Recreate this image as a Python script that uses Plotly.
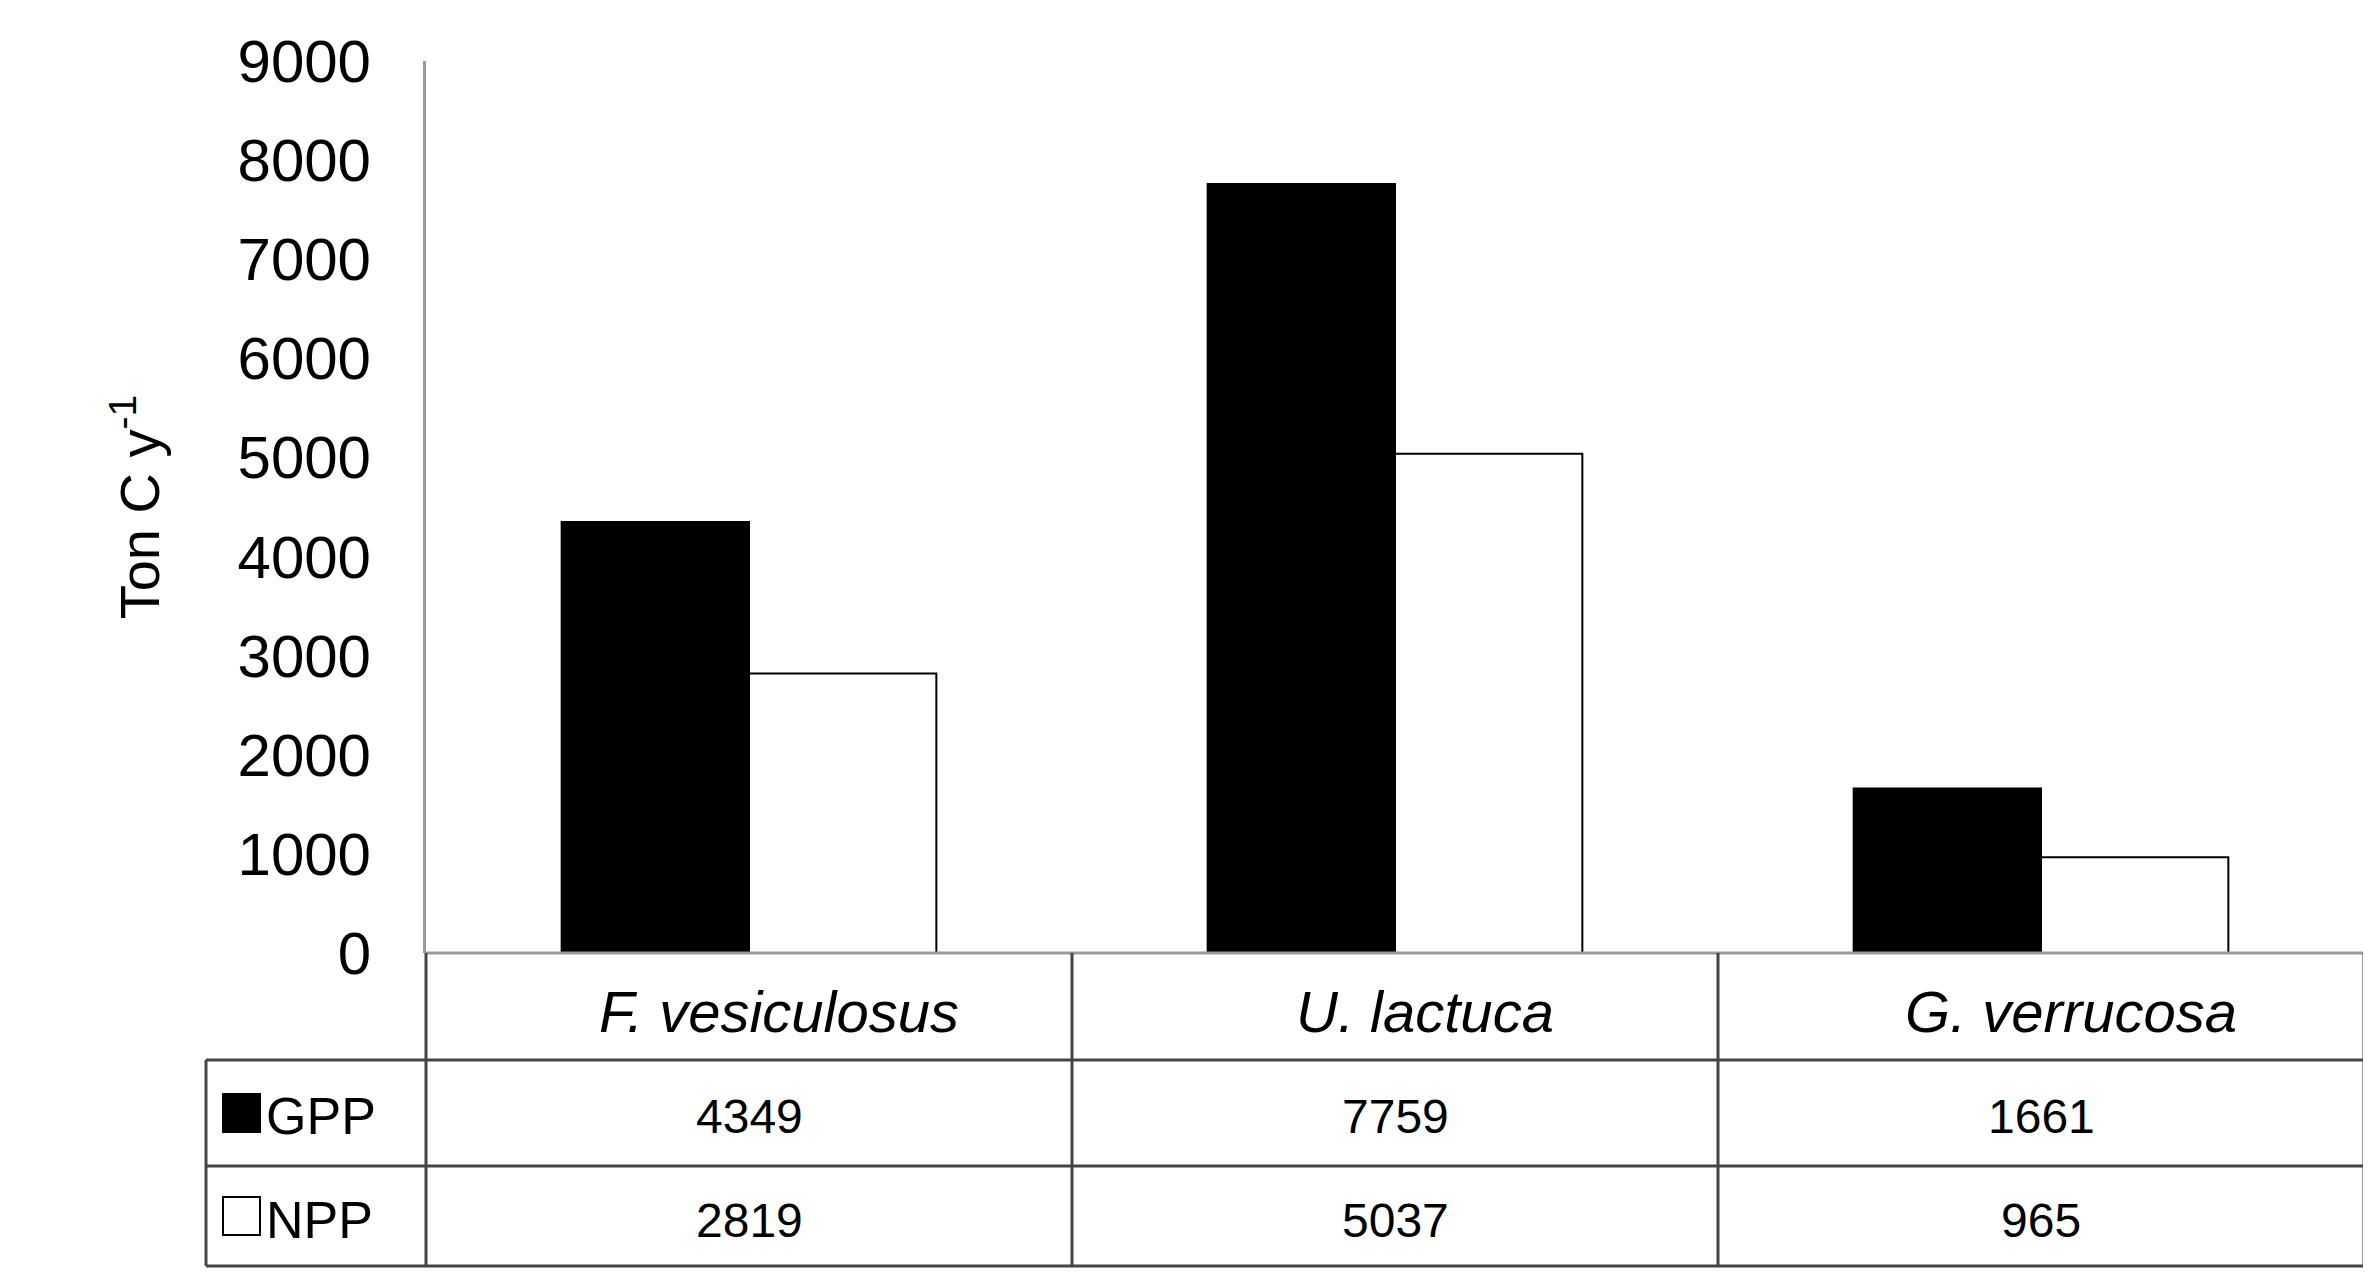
import plotly.graph_objects as go

categories = ["F. vesiculosus", "U. lactuca", "G. verrucosa"]
gpp = [4349, 7759, 1661]
npp = [2819, 5037, 965]
y_ticks = [0, 1000, 2000, 3000, 4000, 5000, 6000, 7000, 8000, 9000]

W, H = 2371, 1284
L, R, T, B = 418, 15, 53, 339
ph = H - T - B
pw = W - L - R

def py(px):  # pixel y -> paper y
    return (H - B - px) / ph

def pxx(x):  # pixel x -> paper x
    return (x - L) / pw

fig = go.Figure()
fig.add_bar(x=categories, y=gpp, name="GPP", marker=dict(color="black", line=dict(color="black", width=2)))
fig.add_bar(x=categories, y=npp, name="NPP", marker=dict(color="white", line=dict(color="black", width=2)))

font = "Liberation Sans, Arial, sans-serif"
fig.update_layout(
    width=W, height=H, margin=dict(l=L, r=R, t=T, b=B),
    paper_bgcolor="white", plot_bgcolor="white", showlegend=False,
    barmode="group", bargap=0.42, bargroupgap=0,
    font=dict(family=font, color="black"),
    xaxis=dict(showticklabels=False, showline=False, ticks="", range=[-0.5, 2.5]),
    yaxis=dict(range=[0, 9000], tickvals=y_ticks, showgrid=False, showline=True,
               linecolor="#999", linewidth=3, ticks="", tickfont=dict(size=60),
               ticklabelstandoff=40,
               title=dict(text="Ton C y<sup>-1</sup>", font=dict(size=56), standoff=60)),
)

shapes = []
line = dict(color="#444", width=3)
rows = [945, 1052, 1158, 1258]
col_x = [198, 418, 1064, 1710, 2356]
shapes.append(dict(type="line", xref="paper", yref="paper", x0=pxx(418), x1=pxx(2356), y0=py(945), y1=py(945), line=dict(color="#999", width=3)))
for r in rows[1:]:
    shapes.append(dict(type="line", xref="paper", yref="paper", x0=pxx(198), x1=pxx(2356), y0=py(r), y1=py(r), line=line))
shapes.append(dict(type="line", xref="paper", yref="paper", x0=pxx(198), x1=pxx(198), y0=py(1052), y1=py(1258), line=line))
for cx in col_x[1:]:
    shapes.append(dict(type="line", xref="paper", yref="paper", x0=pxx(cx), x1=pxx(cx), y0=py(945), y1=py(1258), line=line))
for i, (fill, r0) in enumerate([("black", 1052), ("white", 1158)]):
    yc = (r0 + rows[i + 2]) / 2
    shapes.append(dict(type="rect", xref="paper", yref="paper", x0=pxx(215), x1=pxx(252),
                       y0=py(yc + 19), y1=py(yc - 19), fillcolor=fill, line=dict(color="black", width=2)))
fig.update_layout(shapes=shapes)

ann = []
for j, c in enumerate(categories):
    xc = (col_x[j + 1] + col_x[j + 2]) / 2
    ann.append(dict(x=pxx(xc + 30), y=py(1003), xref="paper", yref="paper", text=f"<i>{c}</i>",
                    showarrow=False, xanchor="center", yanchor="middle", font=dict(size=58)))
    ann.append(dict(x=pxx(xc), y=py(1108), xref="paper", yref="paper", text=str(gpp[j]),
                    showarrow=False, xanchor="center", yanchor="middle", font=dict(size=48)))
    ann.append(dict(x=pxx(xc), y=py(1212), xref="paper", yref="paper", text=str(npp[j]),
                    showarrow=False, xanchor="center", yanchor="middle", font=dict(size=48)))
for name, yc in [("GPP", 1108), ("NPP", 1212)]:
    ann.append(dict(x=pxx(256), y=py(yc), xref="paper", yref="paper", text=name, xanchor="left",
                    yanchor="middle", showarrow=False, font=dict(size=52)))
fig.update_layout(annotations=ann)

fig.write_html("out.html")
